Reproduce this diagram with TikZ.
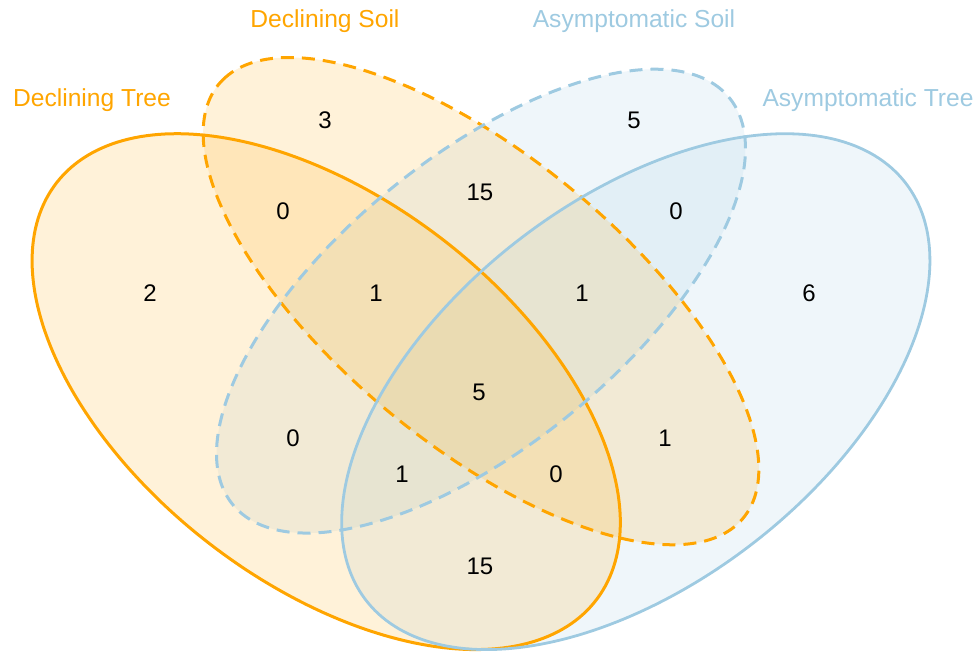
\documentclass[tikz,border=0pt]{standalone}
\usepackage{fontspec}
\setmainfont{Liberation Sans}
\definecolor{vorange}{RGB}{255,165,0}
\definecolor{vblue}{RGB}{158,202,225}
% ellipse in VennDiagram unit frame: cx, cy, a, b, rotation
\newcommand\vennpath[5]{plot[domain=0:360,samples=240,variable=\t]
 ({-35+1032*(#1+#3*cos(\t)*cos(#5)-#4*sin(\t)*sin(#5))},
  {817-905*(#2+#3*cos(\t)*sin(#5)+#4*sin(\t)*cos(#5))}) -- cycle}
\begin{document}
\begin{tikzpicture}[x=0.5pt,y=-0.5pt,
  lbl/.style={font=\fontsize{12.3}{14}\selectfont, anchor=base, inner sep=0pt},
  num/.style={font=\fontsize{12}{14}\selectfont, inner sep=0pt, text=black},
  ofill/.style={fill=vorange, fill opacity=0.15, draw=none},
  bfill/.style={fill=vblue, fill opacity=0.16, draw=none},
  osolid/.style={draw=vorange, line width=1.5pt},
  bsolid/.style={draw=vblue, line width=1.4pt},
  odash/.style={draw=vorange, line width=1.5pt, dash pattern=on 6.5pt off 4pt},
  bdash/.style={draw=vblue, line width=1.5pt, dash pattern=on 6.5pt off 4pt}]
\useasboundingbox (0,0) rectangle (976,657);
% fills (blue first, orange on top)
\path[bfill] \vennpath{0.65}{0.47}{0.35}{0.20}{45};
\path[bfill] \vennpath{0.50}{0.57}{0.33}{0.15}{45};
\path[ofill] \vennpath{0.35}{0.47}{0.35}{0.20}{135};
\path[ofill] \vennpath{0.50}{0.57}{0.35}{0.15}{135};
% outlines
\path[osolid] \vennpath{0.35}{0.47}{0.35}{0.20}{135};
\path[odash] \vennpath{0.50}{0.57}{0.35}{0.15}{135};
\path[bdash] \vennpath{0.50}{0.57}{0.33}{0.15}{45};
\path[bsolid] \vennpath{0.65}{0.47}{0.35}{0.20}{45};
% set labels
\node[lbl, text=vorange] (ldt) at (92,107) {Declining Tree};
\node[lbl, text=vorange] (lds) at (325,28) {Declining Soil};
\node[lbl, text=vblue] (las) at (634,28) {Asymptomatic Soil};
\node[lbl, text=vblue] (lat) at (868,107) {Asymptomatic Tree};
% counts
\node[num] (n1) at (325,120) {3};
\node[num] (n2) at (634,120) {5};
\node[num] (n3) at (283,211) {0};
\node[num] (n4) at (480,192) {15};
\node[num] (n5) at (676,211) {0};
\node[num] (n6) at (150,293) {2};
\node[num] (n7) at (376,293) {1};
\node[num] (n8) at (582,293) {1};
\node[num] (n9) at (809,293) {6};
\node[num] (n10) at (479,392) {5};
\node[num] (n11) at (293,438) {0};
\node[num] (n12) at (665,438) {1};
\node[num] (n13) at (402,474) {1};
\node[num] (n14) at (556,474) {0};
\node[num] (n15) at (480,566) {15};
\end{tikzpicture}
\end{document}
